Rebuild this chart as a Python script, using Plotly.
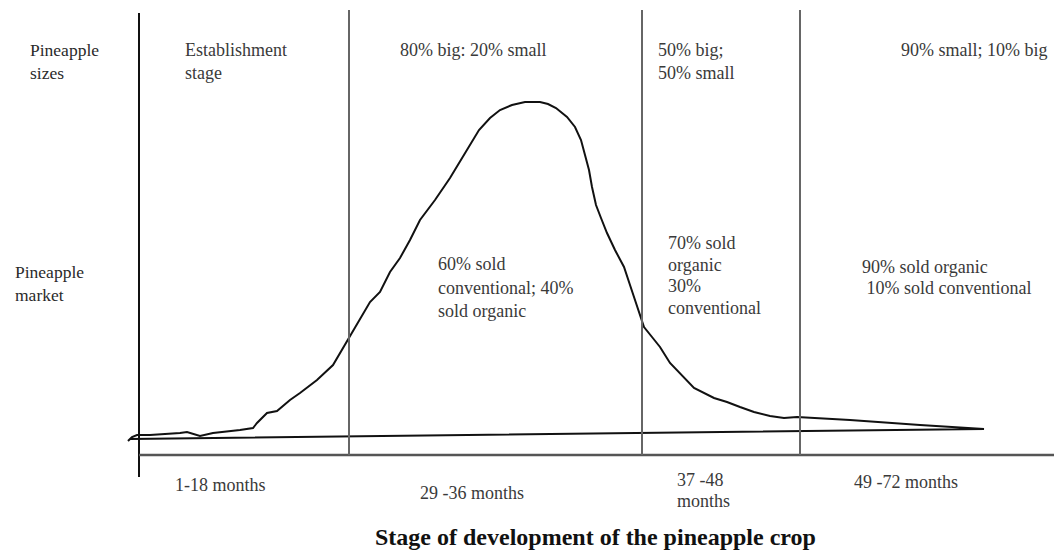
import plotly.graph_objects as go

# ---- data (diagram units: x = position along development axis, market = height above baseline) ----
curve_x = [128, 132, 137, 150, 180, 187, 200, 213, 240, 253, 257, 267, 277, 290, 300, 317, 333, 340, 347,
           360, 370, 380, 390, 400, 410, 420, 435, 450, 465, 479, 490, 500, 512, 525, 540, 548, 556, 567,
           575, 581, 585, 589, 592, 596, 601, 607, 615, 624, 630, 637, 644, 652, 660, 670, 682, 694, 714,
           727, 740, 754, 770, 784, 797, 850, 920, 984, 130, 128]
curve_ypix = [441, 437, 435, 435, 433, 432, 436, 433, 430, 428, 423, 413, 411, 400, 393, 380, 365, 353, 340,
              318, 302, 292, 272, 258, 240, 220, 200, 178, 153, 130, 118, 110, 105, 102, 102, 104, 108, 117,
              127, 140, 155, 170, 187, 205, 218, 233, 250, 267, 285, 307, 327, 337, 347, 363, 376, 388, 398,
              402, 407, 412, 416, 418, 417, 420, 425, 429, 439, 441]
BASE = 455
market = [BASE - v for v in curve_ypix]

axis_x = 139
divider_x = [349, 642, 800]

row_labels = ["Pineapple<br>sizes", "Pineapple<br>market"]
row_label_x = [28, 13]
row_label_y = [50, 272]

size_labels = ["Establishment<br>stage", "80% big: 20% small", "50% big;<br>50% small", "90% small; 10% big"]
size_x = [183, 398, 656, 899]

market_labels = ["60% sold<br>conventional; 40%<br>sold organic",
                 "70% sold<br>organic<br>30%<br>conventional",
                 "90% sold organic<br> 10% sold conventional"]
market_x = [436, 666, 860]
market_y = [264, 243, 267]
market_gap = [23.5, 21.7, 21]

stage_labels = ["1-18 months", "29 -36 months", "37 -48<br>months", "49 -72 months"]
stage_x = [173, 418, 675, 852]
stage_y = [485, 493, 480, 482]

title_text = "Stage of development of the pineapple crop"

FONT = "Liberation Serif, Times New Roman, serif"
TXT = "#3a3a3a"

fig = go.Figure()
fig.add_trace(go.Scatter(x=curve_x, y=market, mode="lines",
                         line=dict(color="#111111", width=2), hoverinfo="skip", showlegend=False))

shapes = []
# left vertical axis
shapes.append(dict(type="line", xref="x", yref="y", x0=axis_x, x1=axis_x, y0=BASE - 13, y1=BASE - 477,
                   line=dict(color="#111111", width=2)))
# horizontal axis
shapes.append(dict(type="line", xref="x", yref="y", x0=axis_x, x1=1054, y0=0, y1=0,
                   line=dict(color="#555555", width=2.5)))
for dx in divider_x:
    shapes.append(dict(type="line", xref="x", yref="y", x0=dx, x1=dx, y0=BASE - 10, y1=0,
                       line=dict(color="#666666", width=2)))

annotations = []

def add_lines(text, x, y_first, gap, size=18, color=TXT, bold=False):
    for i, line in enumerate(text.split("<br>")):
        t = f"<b>{line}</b>" if bold else line
        annotations.append(dict(x=x, y=BASE - (y_first + i * gap), xref="x", yref="y", text=t,
                                showarrow=False, xanchor="left", yanchor="middle",
                                font=dict(family=FONT, size=size, color=color)))

for t, x, y in zip(row_labels, row_label_x, row_label_y):
    add_lines(t, x, y, 23, size=17.5, color="#2a2a2a")
for t, x in zip(size_labels, size_x):
    add_lines(t, x, 50, 23)
for t, x, y, g in zip(market_labels, market_x, market_y, market_gap):
    add_lines(t, x, y, g)
for t, x, y in zip(stage_labels, stage_x, stage_y):
    add_lines(t, x, y, 21)

annotations.append(dict(x=595, y=BASE - 537, xref="x", yref="y", text=f"<b>{title_text}</b>",
                        showarrow=False, xanchor="center", yanchor="middle",
                        font=dict(family=FONT, size=24, color="#111111")))

fig.update_layout(
    width=1054, height=551,
    margin=dict(l=0, r=0, t=0, b=0),
    paper_bgcolor="white", plot_bgcolor="white",
    xaxis=dict(range=[0, 1054], visible=False, fixedrange=True),
    yaxis=dict(range=[BASE - 551, BASE], visible=False, fixedrange=True),
    shapes=shapes, annotations=annotations,
)
fig.write_html("out.html", config={"displayModeBar": False},
               post_script="document.body.style.margin='0';document.body.style.overflow='hidden';")
